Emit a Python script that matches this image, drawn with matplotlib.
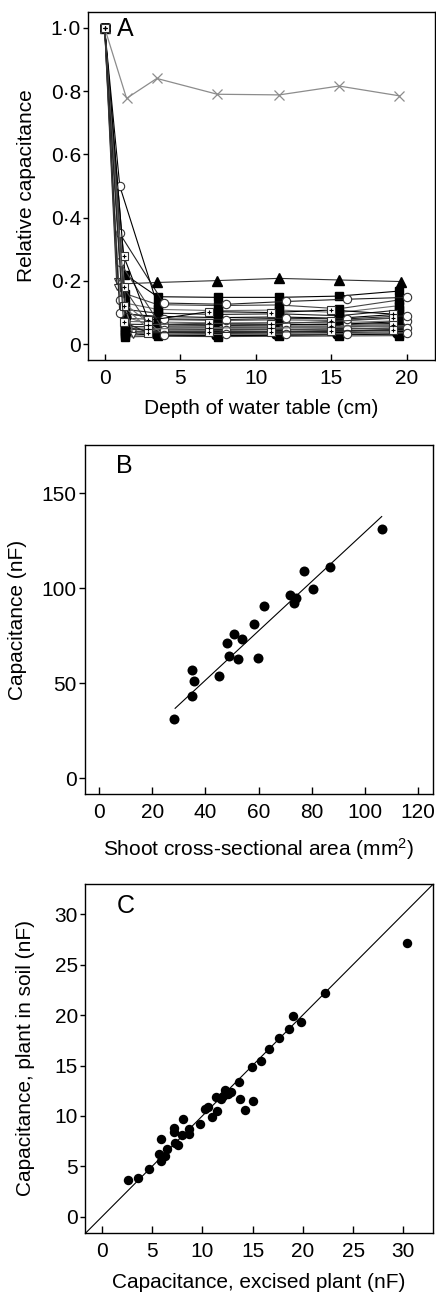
import matplotlib
matplotlib.use("Agg")
import matplotlib.pyplot as plt

plt.rcParams['font.family'] = ['Liberation Sans', 'DejaVu Sans']
plt.rcParams['mathtext.fontset'] = 'custom'
plt.rcParams['mathtext.rm'] = 'Liberation Sans'
plt.rcParams['mathtext.it'] = 'Liberation Sans:italic'
plt.rcParams['mathtext.bf'] = 'Liberation Sans:bold'

# ---------------- Panel A data: relative capacitance vs depth of water table ----------------
depth_sq = [0, 1.35, 3.5, 7.5, 11.5, 15.5, 19.5]
rel_sq = [
    [1.0, 0.22, 0.150, 0.148, 0.148, 0.152, 0.168],
    [1.0, 0.16, 0.125, 0.122, 0.124, 0.112, 0.140],
    [1.0, 0.13, 0.110, 0.106, 0.108, 0.100, 0.122],
    [1.0, 0.11, 0.098, 0.094, 0.096, 0.090, 0.108],
    [1.0, 0.095, 0.088, 0.084, 0.086, 0.082, 0.095],
    [1.0, 0.082, 0.078, 0.075, 0.077, 0.075, 0.084],
    [1.0, 0.072, 0.070, 0.067, 0.069, 0.068, 0.074],
    [1.0, 0.063, 0.062, 0.060, 0.061, 0.062, 0.066],
    [1.0, 0.055, 0.055, 0.053, 0.054, 0.055, 0.058],
    [1.0, 0.048, 0.048, 0.046, 0.047, 0.049, 0.051],
    [1.0, 0.041, 0.042, 0.040, 0.041, 0.043, 0.045],
    [1.0, 0.035, 0.036, 0.034, 0.035, 0.037, 0.039],
    [1.0, 0.029, 0.030, 0.029, 0.030, 0.031, 0.033],
    [1.0, 0.023, 0.025, 0.024, 0.025, 0.026, 0.027],
]
depth_tri = [0, 0.8, 3.45, 7.45, 11.5, 15.5, 19.6]
rel_tri = [1.0, 0.19, 0.195, 0.201, 0.208, 0.203, 0.198]

depth_ci = [0, 1.0, 3.9, 8.0, 12.0, 16.0, 20.0]
rel_ci = [
    [1.0, 0.35, 0.130, 0.126, 0.135, 0.142, 0.148],
    [1.0, 0.50, 0.062, 0.060, 0.062, 0.064, 0.072],
    [1.0, 0.26, 0.045, 0.044, 0.046, 0.048, 0.052],
    [1.0, 0.14, 0.030, 0.031, 0.032, 0.033, 0.036],
    [1.0, 0.10, 0.080, 0.078, 0.082, 0.080, 0.090],
]
depth_ds = [0, 1.25, 2.9, 6.9, 11.0, 15.0, 19.1]
rel_ds = [
    [1.0, 0.28, 0.075, 0.103, 0.100, 0.108, 0.095],
    [1.0, 0.18, 0.062, 0.066, 0.064, 0.072, 0.082],
    [1.0, 0.12, 0.048, 0.052, 0.050, 0.056, 0.062],
    [1.0, 0.07, 0.036, 0.037, 0.038, 0.041, 0.045],
]
depth_fc = [0, 1.45, 3.3, 7.3, 11.3, 15.3, 19.3]
rel_fc = [
    [1.0, 0.085, 0.058, 0.056, 0.057, 0.058, 0.062],
    [1.0, 0.052, 0.040, 0.039, 0.040, 0.042, 0.046],
    [1.0, 0.036, 0.028, 0.027, 0.028, 0.030, 0.032],
]
depth_dv = [0, 0.85, 1.9, 4.0, 8.0, 12.0, 16.0, 20.0]
rel_dv = [
    [1.0, 0.18, 0.040, 0.038, 0.037, 0.039, 0.041, 0.044],
    [1.0, 0.20, 0.030, 0.052, 0.050, 0.052, 0.054, 0.058],
]
depth_x = [0, 1.45, 3.45, 7.45, 11.55, 15.5, 19.5]
rel_x = [1.0, 0.777, 0.84, 0.79, 0.788, 0.816, 0.785]

a_xticks = [0, 5, 10, 15, 20]
a_yticks = [0, 0.2, 0.4, 0.6, 0.8, 1.0]
a_yticklabels = ['0', '0·2', '0·4', '0·6', '0·8', '1·0']

# ---------------- Panel B data ----------------
shoot_area = [28.3, 34.8, 35.7, 35.1, 45.0, 48.0, 48.8, 50.9, 52.3, 53.8,
              58.3, 59.7, 62.0, 71.7, 73.4, 74.2, 77.2, 80.5, 86.8, 106.3]
capac_b = [31.0, 57.0, 51.2, 43.3, 53.7, 71.0, 64.2, 76.1, 63.0, 73.5,
           81.2, 63.5, 90.7, 96.5, 92.1, 95.1, 109.3, 99.8, 111.0, 131.0]
fit_x = [28.6, 106.3]
fit_slope = 1.299
fit_intercept = -0.35
b_xticks = [0, 20, 40, 60, 80, 100, 120]
b_yticks = [0, 50, 100, 150]

# ---------------- Panel C data ----------------
cap_excised = [2.65, 3.6, 4.7, 5.7, 5.9, 5.9, 6.3, 6.5, 7.2, 7.2, 7.3, 7.55, 8.05, 8.0,
               8.7, 8.7, 9.74, 10.3, 10.6, 11.0, 11.5, 11.4, 11.9, 12.3, 12.1, 12.55,
               12.9, 13.65, 13.8, 14.3, 15.0, 14.9, 15.8, 16.6, 17.6, 18.6, 19.05,
               19.8, 22.2, 30.4]
cap_soil = [3.7, 3.9, 4.7, 6.2, 7.7, 5.5, 6.0, 6.7, 8.8, 8.4, 7.3, 7.1, 9.7, 8.1,
            8.7, 8.2, 9.2, 10.65, 10.9, 9.9, 10.45, 11.9, 11.7, 12.6, 12.0, 12.2,
            12.4, 13.4, 11.65, 10.6, 11.5, 14.9, 15.4, 16.6, 17.7, 18.6, 19.9,
            19.35, 22.2, 27.1]
c_ticks = [0, 5, 10, 15, 20, 25, 30]

FS = 15
W, H = 436, 1296
fig = plt.figure(figsize=(W / 100, H / 100), dpi=100)


def make_axes(l, t, r, b):
    return fig.add_axes([l / W, 1 - b / H, (r - l) / W, (b - t) / H])


def style(ax, xlen, ylen):
    for s in ax.spines.values():
        s.set_linewidth(1.0)
    ax.tick_params(axis='x', direction='in', length=xlen, width=1.0, pad=6.5,
                   labelsize=FS)
    ax.tick_params(axis='y', direction='out', length=ylen, width=1.0, pad=1.5,
                   labelsize=FS)


# ---------------- Panel A ----------------
axA = make_axes(88, 12, 435, 360)
line_cols = ['black', '#444444', '#6e6e6e', '#222222']
lw = 0.8
k = 0
for row in rel_sq:
    axA.plot(depth_sq, row, '-', color=line_cols[k % 4], lw=lw, marker='s', ms=5.5,
             mfc='black', mec='black', zorder=3)
    k += 1
for row in rel_fc:
    axA.plot(depth_fc, row, '-', color=line_cols[k % 4], lw=lw, marker='o', ms=5,
             mfc='black', mec='black', zorder=3)
    k += 1
for row in rel_dv:
    axA.plot(depth_dv, row, '-', color=line_cols[k % 4], lw=lw, marker='v', ms=5,
             mfc='white', mec='#333333', mew=0.8, zorder=4)
    k += 1
for row in rel_ci:
    axA.plot(depth_ci, row, '-', color=line_cols[k % 4], lw=lw, marker='o', ms=6,
             mfc='white', mec='#333333', mew=0.8, zorder=4)
    k += 1
axA.plot(depth_tri, rel_tri, '-', color='#333333', lw=lw, marker='^', ms=6.5,
         mfc='black', mec='black', zorder=4, markevery=[0, 2, 3, 4, 5, 6])
for row in rel_ds:
    axA.plot(depth_ds, row, '-', color=line_cols[k % 4], lw=lw, marker='s', ms=6,
             mfc='white', mec='#333333', mew=0.8, zorder=5)
    axA.plot(depth_ds, row, ls='none', marker='+', ms=3, mec='black', mew=0.8,
             zorder=6)
    k += 1
axA.plot(depth_x, rel_x, '-', color='#8c8c8c', lw=0.9, marker='x', ms=6.5,
         mec='#8c8c8c', mew=0.9, zorder=4)
axA.set_xlim(-1.1, 21.85)
axA.set_ylim(-0.05, 1.05)
axA.set_xticks(a_xticks)
axA.set_yticks(a_yticks)
axA.set_yticklabels(a_yticklabels)
style(axA, 4, 3.6)
axA.set_xlabel('Depth of water table (cm)', fontsize=FS, va='center')
axA.xaxis.set_label_coords(0.5, (360 - 409) / 348)
axA.set_ylabel('Relative capacitance', fontsize=FS, va='center')
axA.yaxis.set_label_coords((27 - 88) / 347, 0.5)
axA.text(0.082, 0.985, 'A', transform=axA.transAxes, fontsize=18, va='top', ha='left')

# ---------------- Panel B ----------------
axB = make_axes(85, 445, 433, 794)
axB.scatter(shoot_area, capac_b, s=7.2 ** 2, color='black', zorder=3, linewidths=0)
fit_y = [fit_slope * v + fit_intercept for v in fit_x]
axB.plot(fit_x, fit_y, '-', color='black', lw=0.8)
axB.set_xlim(-5.3, 125.6)
axB.set_ylim(-8.3, 175.4)
axB.set_xticks(b_xticks)
axB.set_yticks(b_yticks)
style(axB, 5, 4.5)
axB.set_xlabel('Shoot cross-sectional area (mm$^{2}$)', fontsize=FS, va='center')
axB.xaxis.set_label_coords(0.5, (794 - 849) / 349)
axB.set_ylabel('Capacitance (nF)', fontsize=FS, va='center')
axB.yaxis.set_label_coords((17.5 - 85) / 348, 0.5)
axB.text(0.09, 0.975, 'B', transform=axB.transAxes, fontsize=18, va='top', ha='left')

# ---------------- Panel C ----------------
axC = make_axes(85, 884, 433, 1233)
axC.scatter(cap_excised, cap_soil, s=6.8 ** 2, color='black', zorder=3, linewidths=0)
axC.axline((0, 0), slope=1, color='black', lw=0.8)
axC.set_xlim(-1.66, 32.95)
axC.set_ylim(-1.59, 32.98)
axC.set_xticks(c_ticks)
axC.set_yticks(c_ticks)
style(axC, 5, 3.6)
axC.set_xlabel('Capacitance, excised plant (nF)', fontsize=FS, va='center')
axC.xaxis.set_label_coords(0.5, (1233 - 1283) / 349)
axC.set_ylabel('Capacitance, plant in soil (nF)', fontsize=FS, va='center')
axC.yaxis.set_label_coords((25.8 - 85) / 348, 0.5)
axC.text(0.09, 0.97, 'C', transform=axC.transAxes, fontsize=18, va='top', ha='left')

fig.savefig('out.png', dpi=100)
